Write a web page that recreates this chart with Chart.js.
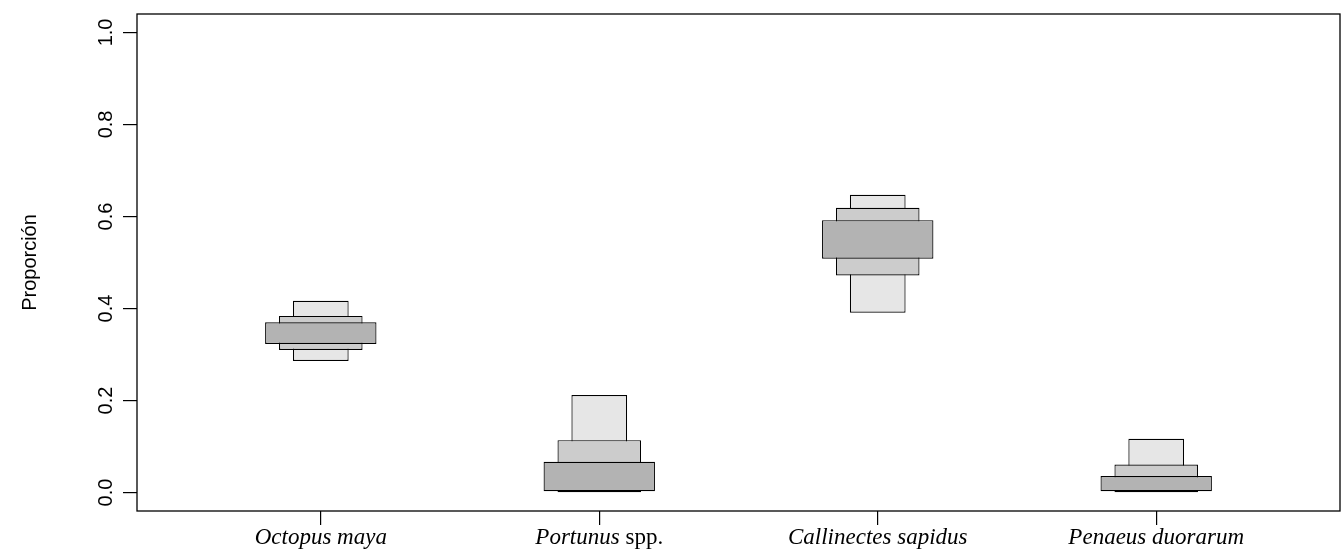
<!DOCTYPE html>
<html>
<head>
<meta charset="utf-8">
<script src="https://cdn.jsdelivr.net/npm/chart.js@4/dist/chart.umd.min.js"></script>
<style>
    body { margin: 0; background: #fff; }
    #wrap { width: 1341px; height: 550px; }
</style>
</head>
<body>
<div id="wrap"><canvas id="propChart"></canvas></div>
<script>

// especies (eje x); la parte en cursiva va en "italic", el resto en "plain"
const species = ["Octopus maya", "Portunus spp.", "Callinectes sapidus", "Penaeus duorarum"];
const speciesItalic = ["Octopus maya", "Portunus", "Callinectes sapidus", "Penaeus duorarum"];
const speciesPlain = ["", " spp.", "", ""];

// intervalos de credibilidad [bajo, alto]
const ci95 = [[0.286, 0.417], [0.000, 0.212], [0.391, 0.647], [0.000, 0.117]];
const ci75 = [[0.310, 0.384], [0.001, 0.114], [0.472, 0.619], [0.001, 0.061]];
const ci50 = [[0.323, 0.370], [0.003, 0.067], [0.508, 0.592], [0.003, 0.036]];

const yTicks = [0, 0.2, 0.4, 0.6, 0.8, 1.0];
const yTickLabels = ["0.0", "0.2", "0.4", "0.6", "0.8", "1.0"];
const yTitle = "Proporción";

function toPoints(ci) {
    return ci.map((v, i) => ({ x: i + 1, y: v }));
}

function barSet(ci, color, pct) {
    return {
        data: toPoints(ci),
        backgroundColor: color,
        borderColor: "#000",
        borderWidth: 1.2,
        borderSkipped: false,
        grouped: false,
        categoryPercentage: 1,
        barPercentage: pct
    };
}

// textos dibujados a mano: etiquetas del eje x (cursiva mixta), eje y rotado, marco
const textPlugin = {
    id: "rText",
    afterDraw(chart) {
        const ctx = chart.ctx;
        const area = chart.chartArea;
        const xs = chart.scales.x;
        const ys = chart.scales.y;

        ctx.save();
        ctx.strokeStyle = "#000";
        ctx.lineWidth = 1.3;
        ctx.strokeRect(area.left, area.top, area.right - area.left, area.bottom - area.top);

        ctx.fillStyle = "#000";
        ctx.textBaseline = "alphabetic";

        const itFont = "italic 23px 'Liberation Serif', serif";
        const upFont = "23px 'Liberation Serif', serif";
        species.forEach((s, i) => {
            const cx = xs.getPixelForValue(i + 1);
            ctx.font = itFont;
            const w1 = ctx.measureText(speciesItalic[i]).width;
            ctx.font = upFont;
            const w2 = ctx.measureText(speciesPlain[i]).width;
            let x = cx - (w1 + w2) / 2;
            ctx.textAlign = "left";
            ctx.font = itFont;
            ctx.fillText(speciesItalic[i], x, area.bottom + 33);
            ctx.font = upFont;
            ctx.fillText(speciesPlain[i], x + w1, area.bottom + 33);
        });

        ctx.font = "20px 'Liberation Sans', Arial, sans-serif";
        ctx.textAlign = "center";
        yTicks.forEach((v, i) => {
            ctx.save();
            ctx.translate(area.left - 25, ys.getPixelForValue(v));
            ctx.rotate(-Math.PI / 2);
            ctx.fillText(yTickLabels[i], 0, 0);
            ctx.restore();
        });

        ctx.save();
        ctx.translate(36, (area.top + area.bottom) / 2);
        ctx.rotate(-Math.PI / 2);
        ctx.fillText(yTitle, 0, 0);
        ctx.restore();

        ctx.restore();
    }
};

const ctx = document.getElementById("propChart").getContext("2d");

new Chart(ctx, {
    type: "bar",
    data: {
        datasets: [
            barSet(ci50, "#b3b3b3", 0.4),
            barSet(ci75, "#cccccc", 0.3),
            barSet(ci95, "#e6e6e6", 0.2)
        ]
    },
    options: {
        responsive: true,
        maintainAspectRatio: false,
        animation: false,
        layout: { padding: { top: 14, right: 1, left: 0, bottom: 0 } },
        plugins: {
            legend: { display: false },
            tooltip: { enabled: false }
        },
        scales: {
            x: {
                type: "linear",
                min: 0.34,
                max: 4.66,
                offset: false,
                afterBuildTicks: s => { s.ticks = species.map((_, i) => ({ value: i + 1 })); },
                afterFit: s => { s.height = 39; },
                ticks: { display: false },
                border: { display: false },
                grid: { offset: false, drawOnChartArea: false, tickLength: 14, color: "#000", lineWidth: 1.2 }
            },
            y: {
                min: -0.04,
                max: 1.04,
                afterBuildTicks: s => { s.ticks = yTicks.map(v => ({ value: v })); },
                afterFit: s => { s.width = 137; },
                ticks: { display: false },
                border: { display: false },
                grid: { drawOnChartArea: false, tickLength: 14, color: "#000", lineWidth: 1.2 }
            }
        }
    },
    plugins: [textPlugin]
});

</script>
</body>
</html>
